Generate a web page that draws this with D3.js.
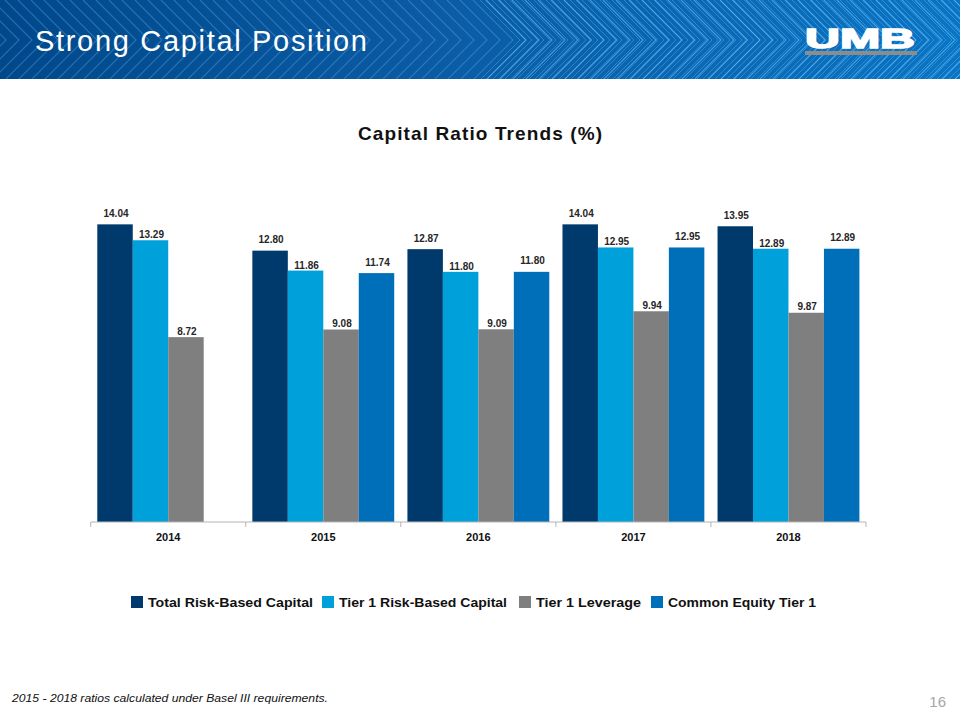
<!DOCTYPE html>
<html><head><meta charset="utf-8">
<script src="https://cdn.jsdelivr.net/npm/d3@7"></script>
<style>body{margin:0;background:#fff}svg{display:block}</style>
</head><body>
<svg id="c" width="960" height="720"></svg>
<script>
const years = ["2014","2015","2016","2017","2018"];
const seriesNames = ["Total Risk-Based Capital","Tier 1 Risk-Based Capital","Tier 1 Leverage","Common Equity Tier 1"];
const totalRiskBased = [14.04, 12.80, 12.87, 14.04, 13.95];
const tier1RiskBased = [13.29, 11.86, 11.80, 12.95, 12.89];
const tier1Leverage  = [8.72, 9.08, 9.09, 9.94, 9.87];
const commonEquityT1 = [null, 11.74, 11.80, 12.95, 12.89];
const seriesValues = [totalRiskBased, tier1RiskBased, tier1Leverage, commonEquityT1];
const colors = ["#003a6c","#00a0da","#7f7f7f","#006fba"];

const svg = d3.select("#c");
const F = "Liberation Sans, Arial, sans-serif";

// ---- header banner ----
const defs = svg.append("defs");
const grad = defs.append("linearGradient").attr("id","hg").attr("x1","0").attr("x2","1");
grad.append("stop").attr("offset","0").attr("stop-color","#00488a");
grad.append("stop").attr("offset","0.45").attr("stop-color","#0a5ba4");
grad.append("stop").attr("offset","1").attr("stop-color","#0a74c4");
defs.append("clipPath").attr("id","hc").append("rect").attr("width",960).attr("height",79);
svg.append("rect").attr("width",960).attr("height",79).attr("fill","url(#hg)");
const hg = svg.append("g").attr("clip-path","url(#hc)");
const chev1 = d3.range(-60, 1000, 13);
hg.selectAll("path.c1").data(chev1).enter().append("path")
  .attr("d", k => `M${k},0 L${k+40},40 L${k},80`)
  .attr("fill","none").attr("stroke", k => k < 480 ? "rgba(90,160,225,0.45)" : "rgba(110,195,248,0.6)")
  .attr("stroke-width",1.1);
const chev2 = d3.range(480, 960, 6);
hg.selectAll("path.c2").data(chev2).enter().append("path")
  .attr("d", k => `M${k},0 L${k+40},40 L${k},80`)
  .attr("fill","none").attr("stroke","rgba(120,205,252,0.35)").attr("stroke-width",0.9);
svg.append("text").attr("x",35).attr("y",51).attr("fill","#fff")
  .attr("font-family",F).attr("font-size",29)
  .attr("textLength",332).attr("lengthAdjust","spacing").text("Strong Capital Position");
// logo
svg.append("text").attr("x",805).attr("y",48).attr("fill","#fff").attr("stroke","#fff").attr("stroke-width",1.5)
  .attr("font-family",F).attr("font-weight","bold").attr("font-size",28)
  .attr("textLength",110).attr("lengthAdjust","spacingAndGlyphs").text("UMB");
svg.append("rect").attr("x",805).attr("y",51).attr("width",112).attr("height",4).attr("fill","#8c8c8c");

// ---- chart ----
svg.append("text").attr("x",358).attr("y",140)
  .attr("font-family",F).attr("font-weight","bold").attr("font-size",19).attr("fill","#111")
  .attr("textLength",244).attr("lengthAdjust","spacing")
  .text("Capital Ratio Trends (%)");

const x0 = d3.scaleBand().domain(years).range([90.7, 866]).paddingInner(0).paddingOuter(0);
const x1 = d3.scaleBand().domain(d3.range(4)).range([0, x0.bandwidth()]).paddingInner(0).paddingOuter(0.186);
const y = d3.scaleLinear().domain([0, 16]).range([522, 182.8]);

const labelOffset = [7.5, 2, 2.5, 7.5];
const g = svg.append("g");
seriesValues.forEach((vals, si) => {
  const data = years.map((yr, i) => ({yr, v: vals[i]})).filter(d => d.v != null);
  g.selectAll(null).data(data).enter().append("rect")
    .attr("x", d => x0(d.yr) + x1(si)).attr("width", x1.bandwidth())
    .attr("y", d => y(d.v)).attr("height", d => y(0) - y(d.v)).attr("fill", colors[si]);
  g.selectAll(null).data(data).enter().append("text")
    .attr("x", d => x0(d.yr) + x1(si) + x1.bandwidth()/2 + 1)
    .attr("y", d => y(d.v) - labelOffset[si])
    .attr("text-anchor","middle").attr("font-family",F).attr("font-weight","bold")
    .attr("font-size",10).attr("fill","#262626").text(d => d.v.toFixed(2));
});

// axis
const ax = svg.append("g").attr("transform","translate(0,522)");
ax.append("line").attr("x1",90.7).attr("x2",866).attr("stroke","#b5b5b5").attr("stroke-width",1.2);
const bounds = years.map(d => x0(d)).concat([866]);
ax.selectAll("line.t").data(bounds).enter().append("line")
  .attr("x1", d => d).attr("x2", d => d).attr("y1",0).attr("y2",5).attr("stroke","#b5b5b5");
ax.selectAll("text").data(years).enter().append("text")
  .attr("x", d => x0(d) + x0.bandwidth()/2).attr("y",19).attr("text-anchor","middle")
  .attr("font-family",F).attr("font-weight","bold").attr("font-size",11).attr("fill","#111").text(d => d);

// legend
const legX = [131, 322, 519, 651];
const legW = [165, 168, 105, 148];
const lg = svg.append("g");
seriesNames.forEach((n, i) => {
  lg.append("rect").attr("x",legX[i]).attr("y",596).attr("width",12).attr("height",12).attr("fill",colors[i]);
  lg.append("text").attr("x",legX[i]+17).attr("y",607).attr("font-family",F).attr("font-weight","bold")
    .attr("font-size",13).attr("fill","#111")
    .attr("textLength",legW[i]).attr("lengthAdjust","spacingAndGlyphs").text(n);
});

// footnote
svg.append("text").attr("x",12).attr("y",702).attr("font-family",F).attr("font-style","italic")
  .attr("font-size",11).attr("fill","#111").attr("textLength",316).attr("lengthAdjust","spacingAndGlyphs")
  .text("2015 - 2018 ratios calculated under Basel III requirements.");
svg.append("text").attr("x",946).attr("y",707).attr("text-anchor","end").attr("font-family",F)
  .attr("font-size",15).attr("fill","#a6a6a6").text("16");
</script>
</body></html>
